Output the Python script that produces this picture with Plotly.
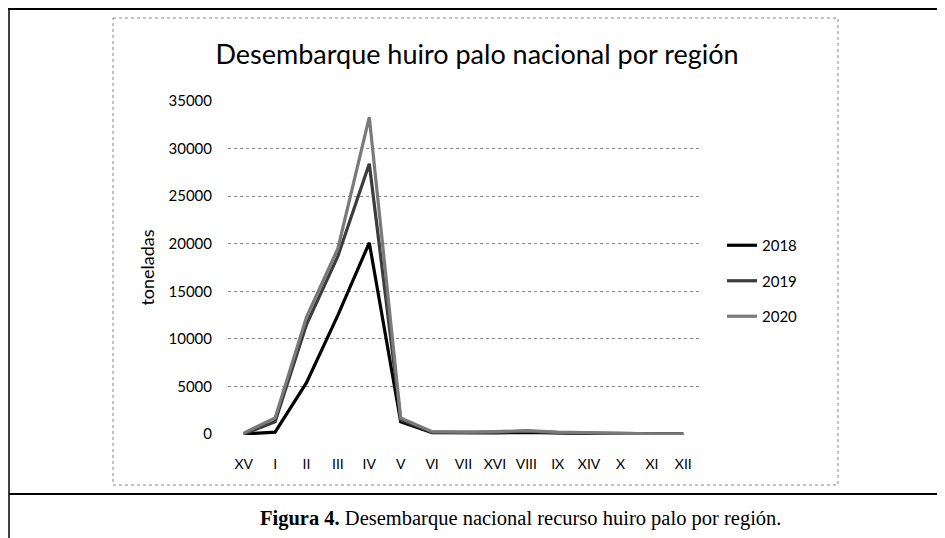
import plotly.graph_objects as go

regions = ["XV", "I", "II", "III", "IV", "V", "VI", "VII", "XVI", "VIII", "IX", "XIV", "X", "XI", "XII"]
y2018 = [0, 200, 5400, 12500, 20100, 1300, 150, 100, 120, 180, 100, 60, 30, 10, 0]
y2019 = [0, 1300, 11500, 18700, 28400, 1500, 200, 150, 180, 300, 150, 100, 40, 15, 0]
y2020 = [100, 1700, 12300, 19500, 33300, 1700, 250, 200, 250, 350, 200, 120, 50, 20, 0]
yticks = [0, 5000, 10000, 15000, 20000, 25000, 30000, 35000]
series = [("2018", y2018, "#000000"), ("2019", y2019, "#3c3c3c"), ("2020", y2020, "#7a7a7a")]

W, H = 945, 538
OFF = 8  # page body margin
# plot area in page pixels
PL, PR, PT, PB = 228, 699, 100, 435
L, R, T, B = PL - OFF, PR - OFF, PT - OFF, PB - OFF

def px(x):  # page pixel -> paper
    return (x - OFF - L) / (R - L)

def py(y):
    return (B - (y - OFF)) / (B - T)

fig = go.Figure()
for name, vals, col in series:
    fig.add_trace(go.Scatter(x=regions, y=vals, name=name, mode="lines", legendgroup=name,
                             line=dict(color=col, width=3.2), cliponaxis=False))

shapes = [
    dict(type="line", xref="paper", yref="paper", x0=px(8), x1=px(960), y0=py(9), y1=py(9), line=dict(color="black", width=2)),
    dict(type="line", xref="paper", yref="paper", x0=px(9), x1=px(9), y0=py(9), y1=py(560), line=dict(color="black", width=1.5)),
    dict(type="rect", xref="paper", yref="paper", x0=px(113), x1=px(838), y0=py(18), y1=py(485), line=dict(color="#8a8a8a", width=1, dash="dot")),
    dict(type="line", xref="paper", yref="paper", x0=px(9), x1=px(960), y0=py(494), y1=py(494), line=dict(color="black", width=2)),
]

fig.update_layout(
    width=W, height=H,
    margin=dict(l=L, r=W - R, t=T, b=H - B),
    paper_bgcolor="white", plot_bgcolor="white",
    showlegend=True,
    legend=dict(x=px(722), y=py(229), xanchor="left", yanchor="top",
                font=dict(family="Lato", size=15, color="black"),
                tracegroupgap=13, traceorder="grouped", bgcolor="rgba(0,0,0,0)"),
    title=dict(text="Desembarque huiro palo nacional por región", x=(477 - OFF) / W, xref="container", xanchor="center",
               y=1 - (55 - OFF) / H, yref="container", yanchor="middle", font=dict(family="Lato", size=27, color="black")),
    xaxis=dict(type="category", range=[-0.5, 14.5], showgrid=False, showline=False, zeroline=False,
               ticks="", tickfont=dict(family="Lato", size=14, color="black"), ticklabelstandoff=19),
    yaxis=dict(range=[-100, 35100], tickvals=yticks, ticktext=[str(v) for v in yticks],
               showgrid=True, gridcolor="#8a8a8a", griddash="dot", gridwidth=1,
               zeroline=False, showline=False, ticks="",
               tickfont=dict(family="Lato", size=15, color="black"), ticklabelstandoff=15,
               title=dict(text="toneladas", font=dict(family="Lato", size=18, color="black"), standoff=9)),
    shapes=shapes,
    annotations=[dict(text="<b>Figura 4.</b> Desembarque nacional recurso huiro palo por región.",
                      xref="paper", yref="paper", x=px(520), y=py(518), xanchor="center", yanchor="middle",
                      showarrow=False, font=dict(family="Liberation Serif", size=20.5, color="black"))],
)

fig.write_html("out.html")
